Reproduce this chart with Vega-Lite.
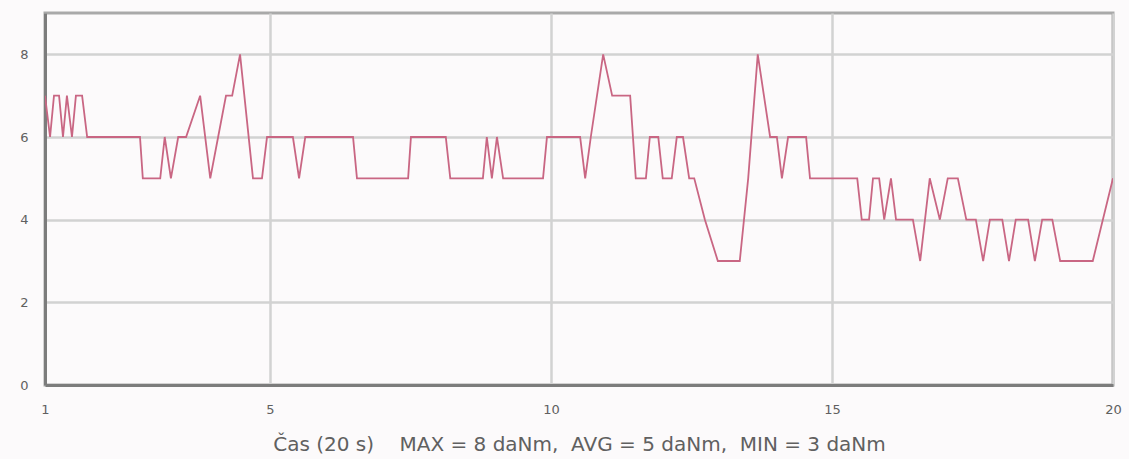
{
  "$schema": "https://vega.github.io/schema/vega-lite/v6.json",
  "autosize": "none",
  "width": 1068,
  "height": 372,
  "padding": {"left": 45, "top": 13, "right": 16, "bottom": 74},
  "background": "#fcfafb",
  "config": {
    "view": {"stroke": "#a9a9a9", "strokeWidth": 3},
    "axis": {
      "labelFont": "DejaVu Sans",
      "labelColor": "#606060",
      "labelFontSize": 13,
      "gridColor": "#d2d2d2",
      "gridWidth": 2.5,
      "domainColor": "#7c7c7c",
      "domainWidth": 3,
      "ticks": false,
      "titleFont": "DejaVu Sans",
      "titleColor": "#606060",
      "titleFontWeight": "normal"
    }
  },
  "data": {
    "values": [
      {"t": 1.00, "v": 7}, {"t": 1.09, "v": 6}, {"t": 1.16, "v": 7}, {"t": 1.25, "v": 7},
      {"t": 1.32, "v": 6}, {"t": 1.39, "v": 7}, {"t": 1.48, "v": 6}, {"t": 1.55, "v": 7},
      {"t": 1.66, "v": 7}, {"t": 1.75, "v": 6}, {"t": 2.69, "v": 6}, {"t": 2.74, "v": 5},
      {"t": 3.05, "v": 5}, {"t": 3.13, "v": 6}, {"t": 3.24, "v": 5}, {"t": 3.37, "v": 6},
      {"t": 3.51, "v": 6}, {"t": 3.76, "v": 7}, {"t": 3.94, "v": 5}, {"t": 4.08, "v": 6},
      {"t": 4.22, "v": 7}, {"t": 4.33, "v": 7}, {"t": 4.47, "v": 8}, {"t": 4.70, "v": 5},
      {"t": 4.86, "v": 5}, {"t": 4.95, "v": 6}, {"t": 5.41, "v": 6}, {"t": 5.52, "v": 5},
      {"t": 5.63, "v": 6}, {"t": 6.48, "v": 6}, {"t": 6.55, "v": 5}, {"t": 7.46, "v": 5},
      {"t": 7.51, "v": 6}, {"t": 8.13, "v": 6}, {"t": 8.21, "v": 5}, {"t": 8.79, "v": 5},
      {"t": 8.86, "v": 6}, {"t": 8.95, "v": 5}, {"t": 9.04, "v": 6}, {"t": 9.15, "v": 5},
      {"t": 9.86, "v": 5}, {"t": 9.93, "v": 6}, {"t": 10.52, "v": 6}, {"t": 10.61, "v": 5},
      {"t": 10.71, "v": 6}, {"t": 10.93, "v": 8}, {"t": 11.09, "v": 7}, {"t": 11.41, "v": 7},
      {"t": 11.51, "v": 5}, {"t": 11.69, "v": 5}, {"t": 11.76, "v": 6}, {"t": 11.91, "v": 6},
      {"t": 11.99, "v": 5}, {"t": 12.15, "v": 5}, {"t": 12.24, "v": 6}, {"t": 12.35, "v": 6},
      {"t": 12.46, "v": 5}, {"t": 12.55, "v": 5}, {"t": 12.74, "v": 4}, {"t": 12.97, "v": 3},
      {"t": 13.36, "v": 3}, {"t": 13.51, "v": 5}, {"t": 13.68, "v": 8}, {"t": 13.90, "v": 6},
      {"t": 14.02, "v": 6}, {"t": 14.11, "v": 5}, {"t": 14.22, "v": 6}, {"t": 14.54, "v": 6},
      {"t": 14.61, "v": 5}, {"t": 15.45, "v": 5}, {"t": 15.53, "v": 4}, {"t": 15.66, "v": 4},
      {"t": 15.73, "v": 5}, {"t": 15.84, "v": 5}, {"t": 15.93, "v": 4}, {"t": 16.05, "v": 5},
      {"t": 16.14, "v": 4}, {"t": 16.44, "v": 4}, {"t": 16.57, "v": 3}, {"t": 16.74, "v": 5},
      {"t": 16.92, "v": 4}, {"t": 17.06, "v": 5}, {"t": 17.24, "v": 5}, {"t": 17.39, "v": 4},
      {"t": 17.56, "v": 4}, {"t": 17.69, "v": 3}, {"t": 17.81, "v": 4}, {"t": 18.03, "v": 4},
      {"t": 18.15, "v": 3}, {"t": 18.27, "v": 4}, {"t": 18.49, "v": 4}, {"t": 18.61, "v": 3},
      {"t": 18.74, "v": 4}, {"t": 18.92, "v": 4}, {"t": 19.06, "v": 3}, {"t": 19.64, "v": 3},
      {"t": 20.00, "v": 5}
    ]
  },
  "mark": {"type": "line", "color": "#c96683", "strokeWidth": 1.8, "clip": true},
  "encoding": {
    "x": {
      "field": "t",
      "type": "quantitative",
      "scale": {"domain": [1, 20], "nice": false, "zero": false},
      "axis": {
        "values": [1, 5, 10, 15, 20],
        "format": "d",
        "labelFlush": false,
        "labelPadding": 18,
        "title": "Čas (20 s)\u00a0\u00a0\u00a0 MAX = 8 daNm,\u00a0 AVG = 5 daNm,\u00a0 MIN = 3 daNm",
        "titleFontSize": 20,
        "titlePadding": 18
      }
    },
    "y": {
      "field": "v",
      "type": "quantitative",
      "scale": {"domain": [0, 9], "nice": false},
      "axis": {
        "values": [0, 2, 4, 6, 8],
        "labelPadding": 17,
        "title": null
      }
    }
  }
}
